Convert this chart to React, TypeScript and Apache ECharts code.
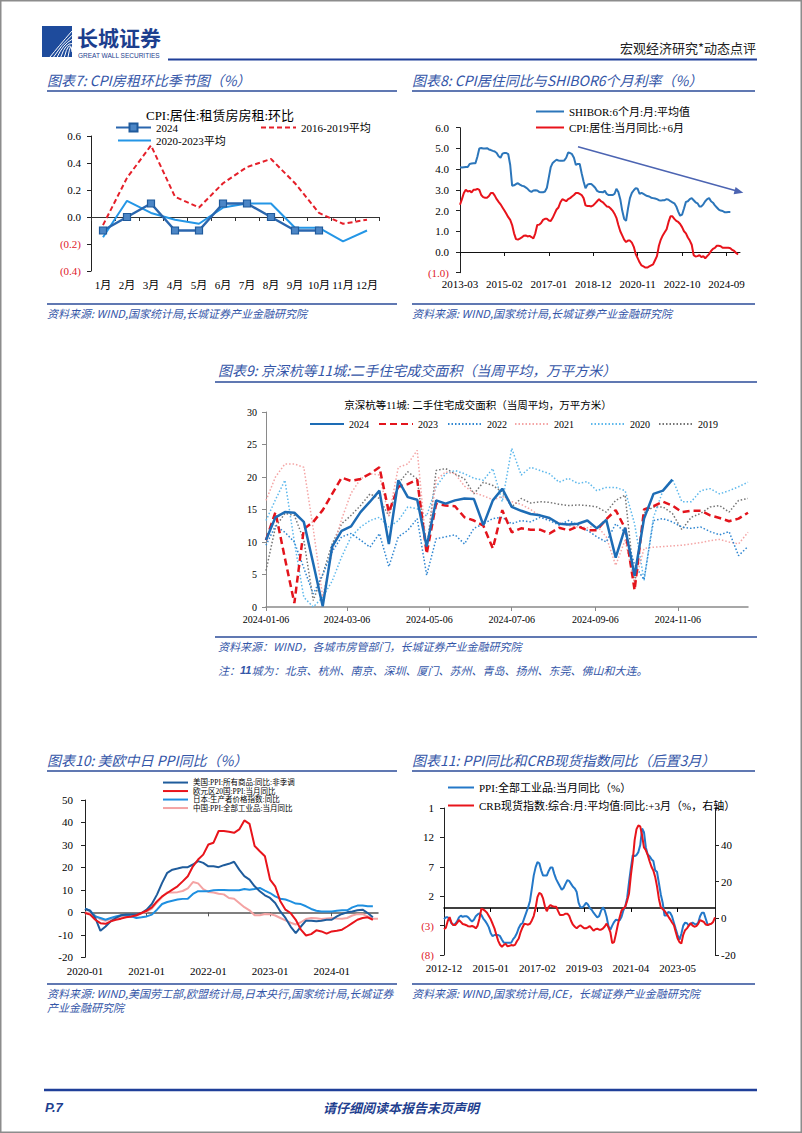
import React, { useEffect, useRef } from 'react';
import * as echarts from 'echarts';

const SERIF = '"Liberation Serif", "Noto Sans CJK SC", serif';
const SANS = '"Noto Sans CJK SC", "Liberation Sans", sans-serif';
const TITLE_BLUE = '#3456A8';
const RULE_BLUE = '#2B4B98';
const NEG_RED = '#E0202A';

// ---------- Chart 7: CPI rent m/m seasonal ----------
const rentMonths = ['1月', '2月', '3月', '4月', '5月', '6月', '7月', '8月', '9月', '10月', '11月', '12月'];
const rent2024 = [-0.1, 0.0, 0.1, -0.1, -0.1, 0.1, 0.1, 0.0, -0.1, -0.1];
const rentAvg1619 = [-0.06, 0.29, 0.53, 0.15, 0.07, 0.25, 0.37, 0.43, 0.25, 0.03, -0.05, -0.02];
const rentAvg2023 = [-0.15, 0.12, 0.03, -0.02, -0.05, 0.07, 0.1, 0.1, -0.08, -0.08, -0.18, -0.1];

// ---------- Chart 8: SHIBOR 6M vs CPI housing (+6M), monthly from 2013-03 ----------
const shibor6m = [
  4.09, 4.08, 4.09, 4.10, 4.10, 4.25, 4.27, 4.28, 4.28, 4.60,
  5.00, 5.02, 5.00, 5.00, 5.01, 4.95, 4.92, 4.88, 4.85, 4.78,
  4.62, 4.55, 4.75, 4.78, 4.78, 4.72, 4.20, 3.20, 3.22, 3.28,
  3.32, 3.25, 3.20, 3.18, 3.12, 3.05, 2.95, 2.90, 2.97, 2.98,
  2.97, 2.90, 2.88, 2.88, 2.92, 3.10, 3.60, 4.10, 4.30, 4.38,
  4.45, 4.42, 4.40, 4.40, 4.42, 4.55, 4.80, 4.78, 4.72, 4.55,
  4.20, 4.25, 4.25, 3.80, 3.40, 3.08, 3.25, 3.28, 3.28, 3.20,
  3.10, 2.95, 2.90, 2.90, 2.88, 2.95, 2.80, 2.75, 2.75, 2.75,
  2.80, 3.05, 2.90, 2.55, 2.00, 1.60, 1.50, 2.10, 2.60, 2.85,
  2.98, 3.08, 3.05, 2.80, 2.85, 2.80, 2.75, 2.70, 2.68, 2.62,
  2.60, 2.58, 2.55, 2.50, 2.48, 2.50, 2.50, 2.55, 2.52, 2.45,
  2.40, 2.35, 2.20, 1.95, 1.75, 1.80, 2.10, 2.42, 2.45, 2.55,
  2.60, 2.50, 2.40, 2.35, 2.20, 2.20, 2.30, 2.45, 2.55, 2.60,
  2.45, 2.38, 2.25, 2.15, 2.05, 2.00, 1.98, 1.92, 1.92, 1.93,
  1.93,
];
const cpiHousingLead6 = [
  2.28, 2.55, 2.85, 3.00, 2.92, 2.95, 2.88, 3.00, 3.00, 3.05,
  3.00, 2.75, 2.65, 2.62, 2.62, 2.70, 2.85, 2.85, 2.72, 2.55,
  2.42, 2.30, 2.15, 2.00, 1.85, 1.68, 1.55, 1.30, 0.90, 0.62,
  0.60, 0.65, 0.70, 0.78, 0.80, 0.75, 0.78, 0.72, 0.65, 0.90,
  1.30, 1.32, 1.40, 1.55, 1.60, 1.60, 1.52, 1.50, 1.65, 1.85,
  2.05, 2.15, 2.40, 2.55, 2.50, 2.45, 2.55, 2.60, 2.68, 2.75,
  2.85, 2.85, 2.80, 2.75, 2.60, 2.25, 2.22, 2.22, 2.20, 2.25,
  2.35, 2.45, 2.55, 2.45, 2.40, 2.30, 2.20, 2.18, 2.10, 2.00,
  1.85, 1.65, 1.30, 1.00, 0.80, 0.60, 0.48, 0.55, 0.55, 0.45,
  0.25, -0.10, -0.30, -0.50, -0.65, -0.70, -0.75, -0.75, -0.70, -0.65,
  -0.60, -0.40, -0.20, 0.30, 0.60, 0.80, 0.95, 1.10, 1.45, 1.72,
  1.72, 1.60, 1.50, 1.45, 1.35, 1.20, 1.00, 0.90, 0.70, 0.55,
  0.35, -0.15, -0.22, -0.20, -0.15, -0.25, -0.20, -0.30, -0.20, -0.10,
  0.05, 0.15, 0.20, 0.30, 0.30, 0.28, 0.20, 0.20, 0.20, 0.20,
  0.18, 0.10, 0.05, -0.05, -0.12,
];

// ---------- Chart 9: 11 cities second-hand housing, weekly from 2024-01-06 ----------
const weekLabelDates = ['2024-01-06', '2024-03-06', '2024-05-06', '2024-07-06', '2024-09-06', '2024-11-06'];
const area2024 = [10.3, 13.8, 14.6, 14.5, 13.1, 6.7, 0.1, 9.3, 11.7, 12.4, 14.6, 16.2, 17.9, 9.7, 19.5, 16.9, 16.5, 9.3, 16.4, 15.9, 16.4, 16.7, 16.6, 12.6, 16.4, 18.2, 15.4, 14.8, 14.3, 14.1, 13.7, 12.8, 12.7, 12.8, 13.3, 12.1, 13.4, 7.6, 12.2, 4.8, 13.6, 17.4, 17.9, 19.6];
const area2023 = [10.3, 14.6, 7.5, 0.6, 12.0, 13.1, 14.9, 17.4, 19.9, 19.4, 19.7, 20.5, 21.5, 14.6, 18.5, 18.9, 19.6, 8.2, 15.9, 15.6, 15.5, 13.8, 13.3, 12.5, 9.0, 14.9, 11.5, 12.1, 11.9, 11.9, 11.3, 12.2, 11.8, 12.4, 11.8, 11.8, 13.5, 14.9, 12.1, 2.6, 15.0, 15.5, 16.2, 15.6, 14.6, 14.8, 14.8, 14.1, 13.7, 13.2, 13.6, 14.5];
const area2022 = [9.5, 12.5, 11.5, 10.0, 6.0, 2.0, 5.0, 8.5, 10.8, 11.3, 10.3, 9.2, 11.3, 6.2, 10.8, 11.8, 13.6, 4.9, 10.5, 10.8, 11.1, 9.7, 12.1, 12.8, 13.6, 13.8, 12.8, 13.3, 13.1, 13.8, 13.3, 12.6, 13.3, 12.6, 11.8, 10.8, 10.0, 12.8, 11.5, 6.5, 4.2, 13.3, 13.6, 13.1, 12.3, 12.1, 12.3, 11.6, 11.1, 11.6, 7.9, 9.3];
const area2021 = [16.4, 20.0, 22.0, 22.0, 21.5, 12.0, 1.5, 8.5, 13.5, 17.5, 19.7, 20.5, 20.3, 14.0, 21.5, 22.0, 24.1, 8.7, 19.5, 20.8, 20.5, 18.6, 17.6, 17.1, 16.5, 17.0, 16.2, 15.8, 15.0, 14.0, 13.5, 13.0, 12.5, 12.3, 12.2, 12.5, 10.8, 6.4, 10.3, 3.6, 9.0, 9.2, 9.3, 9.4, 9.5, 9.7, 9.9, 10.2, 10.4, 10.0, 9.7, 11.5];
const area2020 = [13.3, 16.5, 19.5, 10.0, 1.5, 0.0, 1.5, 4.0, 7.7, 10.8, 12.3, 13.3, 13.8, 12.3, 13.3, 15.4, 15.1, 14.0, 18.5, 20.5, 21.0, 20.5, 19.8, 19.5, 21.3, 16.2, 24.4, 20.3, 21.5, 21.0, 20.5, 19.2, 19.8, 19.0, 19.3, 17.9, 18.4, 18.4, 17.9, 12.8, 4.1, 13.8, 17.9, 19.7, 16.2, 16.2, 17.9, 18.2, 17.4, 17.9, 18.5, 19.2];
const area2019 = [5.6, 12.3, 14.4, 14.1, 10.3, 1.0, 5.0, 9.7, 12.8, 14.1, 15.6, 17.4, 16.7, 14.0, 19.0, 20.8, 19.7, 8.7, 21.0, 21.3, 20.5, 19.7, 17.4, 19.2, 18.7, 17.7, 15.4, 16.7, 16.0, 16.2, 16.1, 15.8, 15.6, 15.7, 15.6, 15.4, 14.6, 16.4, 17.2, 3.5, 14.5, 15.4, 15.4, 14.4, 11.9, 13.8, 14.4, 15.4, 15.6, 14.6, 16.4, 16.7];

// ---------- Chart 10: US / EU / JP / CN PPI y/y, monthly from 2020-01 ----------
const ppiUS = [1.6, 0.7, -2.5, -8.2, -6.3, -4.0, -2.5, -1.3, -1.0, -1.0, -1.0, -0.3,
  1.2, 3.7, 7.9, 13.1, 17.6, 19.0, 19.5, 20.1, 20.1, 21.3, 22.8, 22.0,
  20.5, 20.5, 20.1, 21.0, 21.6, 22.5, 19.0, 16.1, 14.6, 11.6, 9.4, 7.6,
  6.4, 4.2, 0.4, -2.5, -6.3, -9.2, -6.3, -3.7, -3.7, -4.0, -3.7, -3.3,
  -3.3, -1.8, -0.7, 0.0, 0.4, 0.9, 1.2, -0.3, -2.2];
const ppiEU = [-0.3, -1.0, -3.3, -4.8, -5.1, -4.0, -3.3, -2.8, -2.2, -1.8, -1.3, -0.3,
  0.7, 2.2, 4.9, 7.1, 8.6, 10.1, 11.6, 13.8, 16.1, 20.5, 23.5, 25.7,
  30.2, 31.0, 36.2, 36.2, 35.9, 35.4, 36.9, 40.9, 39.4, 29.5, 27.2, 25.0,
  14.6, 11.6, 4.9, 1.2, -0.3, -3.3, -7.7, -10.3, -9.7, -8.0, -8.5, -9.5,
  -8.5, -8.2, -7.7, -6.3, -4.8, -3.3, -2.5, -2.2, -3.3];
const ppiJP = [1.6, 0.7, -1.8, -2.5, -3.3, -2.5, -1.8, -1.3, -1.3, -1.8, -2.5, -2.2,
  -1.8, -1.0, 1.2, 3.7, 4.6, 5.2, 5.7, 6.0, 6.1, 8.2, 9.4, 9.4,
  9.4, 9.8, 10.0, 10.0, 9.8, 9.8, 9.8, 10.4, 10.1, 10.4, 10.9, 9.7,
  8.6, 7.1, 6.1, 5.7, 4.9, 3.9, 3.7, 2.7, 1.5, 0.7, 0.4, 0.4,
  0.4, 0.7, 0.9, 0.9, 2.2, 3.0, 3.1, 2.7, 2.7];

// ---------- Chart 11: China PPI (left) vs CRB spot y/y +3M (right), monthly from 2012-12 ----------
const ppiCN = [-1.9,
  -1.6, -1.6, -1.9, -2.6, -2.9, -2.7, -2.3, -1.6, -1.3, -1.5, -1.4, -1.4,
  -1.6, -2.0, -2.3, -2.0, -1.4, -1.1, -0.9, -1.2, -1.8, -2.2, -2.7, -3.3,
  -4.3, -4.8, -4.6, -4.6, -4.6, -4.8, -5.4, -5.9, -5.9, -5.9, -5.9, -5.9,
  -5.3, -4.9, -4.3, -3.4, -2.8, -2.6, -1.7, -0.8, 0.1, 1.2, 3.3, 5.5,
  6.9, 7.8, 7.6, 6.4, 5.5, 5.5, 5.5, 6.3, 6.9, 6.9, 5.8, 4.9,
  4.3, 3.7, 3.1, 3.4, 4.1, 4.7, 4.6, 4.1, 3.6, 3.3, 2.7, 0.9,
  0.1, 0.1, 0.4, 0.9, 0.6, 0.0, -0.3, -0.8, -1.2, -1.6, -1.4, -0.5,
  0.1, -0.4, -1.5, -3.1, -3.7, -3.0, -2.4, -2.0, -2.1, -2.1, -1.5, -0.4,
  0.3, 1.7, 4.4, 6.8, 9.0, 8.8, 9.0, 9.5, 10.7, 13.5, 12.9, 10.3,
  9.1, 8.8, 8.3, 8.0, 6.4, 6.1, 4.2, 2.3, 0.9, -1.3, -1.3, -0.7,
  -0.8, -1.4, -2.5, -3.6, -4.6, -5.4, -4.4, -3.0, -2.5, -2.6, -3.0, -2.7,
  -2.5, -2.7, -2.8, -2.5, -1.4, -0.8, -0.8, -1.8, -2.8, -2.9];
const crbLag3 = [
  -6.0, -5.2, -1.5, 0.6, -2.5, -3.7, -3.7, -2.5, -1.0, -2.0,
  -3.1, -3.4, -3.8, -4.4, -4.5, -4.2, -4.6, -5.5, -4.0, 0.0,
  5.2, 4.8, 4.0, 3.0, 1.2, -0.6, -3.0, -5.5, -9.0, -12.3,
  -14.4, -15.5, -14.5, -14.0, -15.3, -15.0, -14.6, -14.8, -14.5, -12.5,
  -11.0, -7.5, -5.0, -3.0, -3.2, -3.5, -3.0, -1.2, 1.2, 5.5,
  11.5, 13.8, 13.2, 10.8, 6.5, 3.8, 6.2, 7.2, 6.5, 6.3,
  6.3, 4.0, 1.8, 1.8, 1.9, 2.5, 2.5, 1.3, -1.5, -3.5,
  -4.6, -5.5, -4.5, -3.8, -4.6, -5.5, -5.5, -5.0, -4.3, -5.5,
  -6.8, -6.0, -5.7, -6.2, -6.2, -5.6, -4.5, -2.9, -5.0, -7.5,
  -13.5, -13.0, -8.5, -3.5, 0.5, 4.2, 5.3, 6.3, 9.5, 13.5,
  23.5, 31.5, 42.5, 48.5, 50.5, 50.0, 45.0, 38.5, 37.0, 34.5,
  31.0, 28.0, 26.0, 22.5, 17.2, 10.5, 6.0, 5.0, 4.0, 2.5,
  1.0, -0.6, -2.3, -3.7, -7.5, -11.0, -13.0, -13.7, -9.0, -6.5,
  -5.5, -4.0, -2.7, -4.0, -4.6, -4.3, -3.0, -1.0, -1.5, -2.0,
  -3.4, -3.7, -3.3, -3.0, -2.0, 0.5];

// ---------- helpers ----------
const pad = (n: number) => String(n).padStart(2, '0');
function monthLabels(startY: number, startM: number, n: number): string[] {
  const out: string[] = [];
  for (let i = 0; i < n; i++) {
    const t = startM - 1 + i;
    out.push(`${startY + Math.floor(t / 12)}-${pad((t % 12) + 1)}`);
  }
  return out;
}
const months8 = monthLabels(2013, 3, 146);
const months10 = monthLabels(2020, 1, 58);
const months11 = monthLabels(2012, 12, 146);
const DAY = 86400000;
const BASE_DAY = Date.UTC(2024, 0, 6);
const dayOf = (s: string) => { const [y, m, d] = s.split('-').map(Number); return Math.round((Date.UTC(y, m - 1, d) - BASE_DAY) / DAY); };
const dayLabel = (v: number) => { const d = new Date(BASE_DAY + Math.round(v) * DAY); return `${d.getUTCFullYear()}-${pad(d.getUTCMonth() + 1)}-${pad(d.getUTCDate())}`; };
const toWeekly = (arr: number[]) => arr.map((v, i) => [i * 7, v]);
const paren1 = (v: number) => (v < 0 ? `(${(-v).toFixed(1)})` : v.toFixed(1));
const negColor = (v: any) => (Number(v) < 0 ? NEG_RED : '#000');

function text(x: number, y: number, t: string, o: any = {}) {
  const align = o.align || 'left';
  return {
    type: 'text', x, y, silent: true,
    style: {
      text: t, fontSize: 11, fontFamily: SANS, fill: '#000',
      align, textAlign: align, verticalAlign: 'middle', textVerticalAlign: 'middle', ...o,
    },
  };
}
function hline(x1: number, x2: number, y: number, stroke = RULE_BLUE, lineWidth = 1.5) {
  return { type: 'line', silent: true, shape: { x1, y1: y, x2, y2: y }, style: { stroke, lineWidth } };
}

function buildGraphics() {
  const g: any[] = [];
  g.push({ type: 'rect', silent: true, shape: { x: 0.75, y: 0.75, width: 800.5, height: 1131.5 }, style: { fill: 'none', stroke: '#8c8c8c', lineWidth: 1.5 } });
  g.push({ type: 'rect', silent: true, shape: { x: 42, y: 26, width: 30, height: 31 }, style: { fill: '#1E4B9C' } });
  for (let i = 0; i < 6; i++) {
    g.push({
      type: 'bezierCurve', silent: true,
      shape: { x1: 50 + i * 3.6, y1: 57, cpx1: 58 + i * 2.6, cpy1: 47 - i * 1.5, x2: 72, y2: 31 + i * 4.2 },
      style: { stroke: '#ffffff', lineWidth: 1, fill: 'none' },
    });
  }
  g.push(text(77, 37, '长城证券', { fontSize: 21, fontWeight: 'bold', fill: '#1C3E8E', lineHeight: 21 }));
  g.push(text(78, 55.5, 'GREAT WALL SECURITIES', { fontSize: 6.5, fontFamily: '"Liberation Sans", sans-serif', fill: '#1C3E8E', lineHeight: 7 }));
  g.push(text(756, 47, '宏观经济研究*动态点评', { fontSize: 13, fill: '#222', align: 'right' }));
  g.push(hline(168, 757, 59.5, '#1F3F99', 2));

  const title = (x: number, y: number, t: string) => text(x, y, t, { fontSize: 14, fontStyle: 'italic', fill: TITLE_BLUE });
  const source = (x: number, y: number, t: string) => text(x, y, t, { fontSize: 11, fontStyle: 'italic', fill: TITLE_BLUE, lineHeight: 13 });

  g.push(title(47, 80, '图表7: CPI房租环比季节图（%）'));
  g.push(hline(47, 397, 91));
  g.push(text(220, 115, 'CPI:居住:租赁房房租:环比', { fontSize: 13, fontFamily: SERIF, align: 'center' }));
  g.push(hline(47, 397, 304));
  g.push(source(47, 313, '资料来源: WIND,国家统计局,长城证券产业金融研究院'));

  g.push(title(412, 80, '图表8: CPI居住同比与SHIBOR6个月利率（%）'));
  g.push(hline(412, 755, 91));
  g.push(hline(412, 755, 304));
  g.push(source(412, 313, '资料来源: WIND,国家统计局,长城证券产业金融研究院'));
  g.push({ type: 'line', silent: true, shape: { x1: 578, y1: 146.7, x2: 736, y2: 190.8 }, style: { stroke: '#4C64B2', lineWidth: 1.5 } });
  g.push({ type: 'polygon', silent: true, shape: { points: [[743.3, 192.8], [735.6, 186.9], [733.6, 194.2]] }, style: { fill: '#4C64B2' } });

  g.push(title(218, 370, '图表9: 京深杭等11城:二手住宅成交面积（当周平均，万平方米）'));
  g.push(hline(215, 757, 382));
  g.push(text(478, 405, '京深杭等11城: 二手住宅成交面积（当周平均，万平方米）', { fontSize: 10.5, fontFamily: SERIF, align: 'center' }));
  g.push(hline(215, 757, 637));
  g.push(source(218, 646, '资料来源：WIND，各城市房管部门，长城证券产业金融研究院'));
  g.push({
    type: 'text', x: 218, y: 670, silent: true,
    style: {
      text: '注：{b|11}城为：北京、杭州、南京、深圳、厦门、苏州、青岛、扬州、东莞、佛山和大连。',
      fontSize: 11, fontFamily: SANS, fontStyle: 'italic', fill: TITLE_BLUE,
      verticalAlign: 'middle', textVerticalAlign: 'middle',
      rich: { b: { fontSize: 11, fontWeight: 'bold', fontStyle: 'italic', fill: TITLE_BLUE, fontFamily: '"Liberation Sans", sans-serif' } },
    },
  });

  g.push(title(47, 760, '图表10: 美欧中日 PPI同比（%）'));
  g.push(hline(47, 397, 771));
  g.push(hline(47, 397, 984));
  g.push(source(47, 993, '资料来源: WIND,美国劳工部,欧盟统计局,日本央行,国家统计局,长城证券'));
  g.push(source(47, 1007, '产业金融研究院'));

  g.push(title(412, 760, '图表11: PPI同比和CRB现货指数同比（后置3月）'));
  g.push(hline(412, 755, 771));
  g.push(hline(412, 755, 984));
  g.push(source(412, 993, '资料来源: WIND,国家统计局,ICE，长城证券产业金融研究院'));

  g.push(hline(44, 757, 1090, '#1F3F99', 2.5));
  g.push(text(45, 1107, 'P.7', { fontSize: 13, fontStyle: 'italic', fontWeight: 'bold', fill: '#1F3F8F', fontFamily: '"Liberation Sans", sans-serif' }));
  g.push(text(401, 1107, '请仔细阅读本报告末页声明', { fontSize: 13, fontStyle: 'italic', fontWeight: 'bold', fill: '#1F3F8F', align: 'center' }));
  return g;
}

function yAxis(gridIndex: number, min: number, max: number, interval: number, formatter: any, opts: any = {}) {
  return {
    type: 'value', gridIndex, min, max, interval,
    position: opts.position || 'left',
    axisLine: { show: true, onZero: false, lineStyle: { color: opts.lineColor || '#222', width: 1 } },
    axisTick: { show: true, length: 4, inside: false, lineStyle: { color: opts.lineColor || '#222' } },
    splitLine: { show: false },
    axisLabel: { formatter, color: opts.color || '#000', fontSize: opts.fontSize || 11, fontFamily: SERIF, margin: opts.margin || 10 },
  };
}
function xLabelAxis(gridIndex: number, data: string[], boundaryGap: boolean, interval: number, margin: number, fontSize = 11) {
  return {
    type: 'category', gridIndex, data, boundaryGap, position: 'bottom',
    axisLine: { show: false, onZero: false }, axisTick: { show: false }, splitLine: { show: false },
    axisLabel: { interval, margin, fontSize, fontFamily: SERIF, color: '#000' },
  };
}
function xZeroAxis(gridIndex: number, data: string[], boundaryGap: boolean, tickInterval: number, yIdx: number, color = '#111', width = 1) {
  return {
    type: 'category', gridIndex, data, boundaryGap, position: 'bottom',
    axisLine: { show: true, onZero: true, onZeroAxisIndex: yIdx, lineStyle: { color, width } },
    axisTick: { show: true, interval: tickInterval, length: 4, lineStyle: { color } },
    axisLabel: { show: false }, splitLine: { show: false },
  };
}
function legend(name: string, left: number, top: number, o: any = {}) {
  const l: any = {
    data: [name], left, top, padding: 0, itemGap: 0, selectedMode: false,
    itemWidth: o.itemWidth || 30, itemHeight: o.itemHeight || 10,
    textStyle: { fontFamily: SERIF, fontSize: o.fontSize || 11, color: '#000' },
  };
  if (!o.keepSymbol) l.itemStyle = { opacity: 0 };
  if (o.formatter) l.formatter = o.formatter;
  if (o.lineHeight) l.textStyle.lineHeight = o.lineHeight;
  return l;
}
const line = (name: string, xAxisIndex: number, yAxisIndex: number, data: any[], color: string, width = 2, type: any = 'solid', extra: any = {}) => ({
  name, type: 'line', xAxisIndex, yAxisIndex, data, symbol: 'none', smooth: false,
  lineStyle: { color, width, type }, itemStyle: { color }, emphasis: { disabled: true }, ...extra,
});

function buildOption() {
  const weekTicks = weekLabelDates.map(dayOf);
  const strip = (n: string) => n.slice(1);
  const small = { itemWidth: 25, itemHeight: 6, fontSize: 7.5, lineHeight: 8.5 };
  return {
    animation: false,
    backgroundColor: '#ffffff',
    grid: [
      { left: 91, top: 136, width: 288, height: 135 },
      { left: 460, top: 127.7, width: 280, height: 145 },
      { left: 266, top: 412, width: 482, height: 195 },
      { left: 85, top: 800, width: 293, height: 157.3 },
      { left: 444, top: 808, width: 271, height: 147 },
    ],
    xAxis: [
      xLabelAxis(0, rentMonths, true, 0, 8.5),
      xZeroAxis(0, rentMonths, true, 0, 0, '#333'),
      xLabelAxis(1, months8, false, 22, 6),
      xZeroAxis(1, months8, false, 22, 1),
      {
        type: 'value', gridIndex: 2, min: 0, max: 357,
        axisLine: { show: true, onZero: false, lineStyle: { color: '#8a8a8a', width: 1.5 } },
        axisTick: { show: true, length: 4, customValues: weekTicks, lineStyle: { color: '#8a8a8a' } },
        axisLabel: { customValues: weekTicks, formatter: (v: number) => dayLabel(v), fontSize: 10, fontFamily: SERIF, color: '#000', margin: 7 },
        splitLine: { show: false },
      },
      xLabelAxis(3, months10, false, 11, 8),
      xZeroAxis(3, months10, false, 11, 3, '#555', 1.5),
      xLabelAxis(4, months11, false, 24, 7.5),
      xZeroAxis(4, months11, false, 24, 4, '#000', 1.5),
    ],
    yAxis: [
      yAxis(0, -0.4, 0.6, 0.2, paren1, { color: negColor, margin: 10 }),
      yAxis(1, -1, 6, 1, paren1, { color: negColor, margin: 11 }),
      yAxis(2, 0, 30, 5, (v: number) => String(v), { lineColor: '#8a8a8a', fontSize: 10, margin: 9 }),
      yAxis(3, -20, 50, 10, (v: number) => String(v), { margin: 12 }),
      yAxis(4, -8, 17, 5, (v: number) => (v === 17 ? '1' : v < 0 ? `(${-v})` : String(v)), { color: negColor, margin: 10 }),
      yAxis(4, -20, 60, 20, (v: number) => (v === 60 ? '' : String(v)), { position: 'right', margin: 6 }),
    ],
    legend: [
      legend('2024', 115, 122, { itemWidth: 35, keepSymbol: true }),
      legend('2016-2019平均', 260, 122, { itemWidth: 35 }),
      legend('2020-2023平均', 117, 135, { itemWidth: 33 }),
      legend('SHIBOR:6个月:月:平均值', 535, 106, { itemWidth: 28 }),
      legend('CPI:居住:当月同比:+6月', 535, 122, { itemWidth: 28 }),
      legend('w2024', 309, 419, { itemWidth: 34, fontSize: 10, formatter: strip }),
      legend('w2023', 378, 419, { itemWidth: 34, fontSize: 10, formatter: strip }),
      legend('w2022', 447, 419, { itemWidth: 34, fontSize: 10, formatter: strip }),
      legend('w2021', 514, 419, { itemWidth: 34, fontSize: 10, formatter: strip }),
      legend('w2020', 590, 419, { itemWidth: 34, fontSize: 10, formatter: strip }),
      legend('w2019', 658, 419, { itemWidth: 34, fontSize: 10, formatter: strip }),
      legend('美国:PPI:所有商品:同比:非季调', 162, 778.3, small),
      legend('欧元区20国:PPI:当月同比', 162, 786.8, small),
      legend('日本:生产者价格指数:同比', 162, 795.3, small),
      legend('中国:PPI:全部工业品:当月同比', 162, 803.8, small),
      legend('PPI:全部工业品:当月同比（%）', 447, 782, { itemWidth: 26 }),
      legend('CRB现货指数:综合:月:平均值:同比:+3月（%，右轴）', 447, 800, { itemWidth: 26 }),
    ],
    series: [
      line('2016-2019平均', 0, 0, rentAvg1619, '#E5202A', 2, [5, 3]),
      line('2020-2023平均', 0, 0, rentAvg2023, '#2496E6', 2),
      line('2024', 0, 0, rent2024, '#2A66AE', 2.5, 'solid', {
        symbol: 'rect', symbolSize: 7, showSymbol: true,
        itemStyle: { color: '#4C86C6', borderColor: '#1F5A9C', borderWidth: 1.2 },
      }),
      line('SHIBOR:6个月:月:平均值', 2, 1, shibor6m, '#2C76BA', 2),
      line('CPI:居住:当月同比:+6月', 2, 1, cpiHousingLead6, '#E8131B', 2),
      line('w2019', 4, 2, toWeekly(area2019), '#747474', 1.5, [1.5, 2]),
      line('w2020', 4, 2, toWeekly(area2020), '#5DB8EC', 1.5, [1.5, 2]),
      line('w2021', 4, 2, toWeekly(area2021), '#F4A5A5', 1.5, [1.5, 2]),
      line('w2022', 4, 2, toWeekly(area2022), '#2F86D1', 1.5, [1.5, 2]),
      line('w2023', 4, 2, toWeekly(area2023), '#E3141C', 2.5, [7, 4]),
      line('w2024', 4, 2, toWeekly(area2024), '#1D6CB5', 2.5),
      line('中国:PPI:全部工业品:当月同比', 5, 3, ppiCN.slice(85), '#F4A3A3', 2),
      line('日本:生产者价格指数:同比', 5, 3, ppiJP, '#1E8FE0', 2),
      line('美国:PPI:所有商品:同比:非季调', 5, 3, ppiUS, '#1F5C9C', 2),
      line('欧元区20国:PPI:当月同比', 5, 3, ppiEU, '#E8141B', 2),
      line('PPI:全部工业品:当月同比（%）', 7, 4, ppiCN, '#2478C8', 2),
      line('CRB现货指数:综合:月:平均值:同比:+3月（%，右轴）', 7, 5, crbLag3, '#E8141B', 2),
    ],
    graphic: { elements: buildGraphics() },
  };
}

export default function App() {
  const ref = useRef<HTMLDivElement>(null);
  useEffect(() => {
    document.body.style.margin = '0';
    const chart = echarts.init(ref.current as HTMLDivElement, undefined, { renderer: 'svg', width: 802, height: 1133 });
    chart.setOption(buildOption() as any);
    return () => chart.dispose();
  }, []);
  return <div ref={ref} style={{ position: 'absolute', left: 0, top: 0, width: 802, height: 1133, background: '#fff' }} />;
}
